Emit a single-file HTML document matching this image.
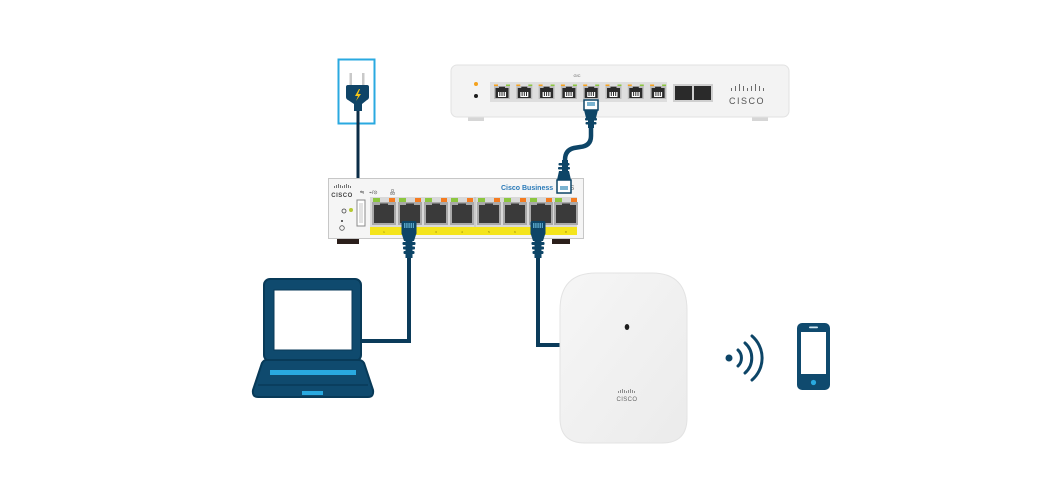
<!DOCTYPE html>
<html><head><meta charset="utf-8"><style>
html,body{margin:0;padding:0;background:#fff;}
svg{display:block;}
text{font-family:"Liberation Sans",sans-serif;}
</style></head><body>
<svg width="1050" height="500" viewBox="0 0 1050 500" xmlns="http://www.w3.org/2000/svg">
<defs>
  <linearGradient id="apg" x1="0" y1="0" x2="1" y2="1">
    <stop offset="0" stop-color="#f6f6f6"/><stop offset="1" stop-color="#ebebeb"/>
  </linearGradient>
  <g id="rport">
    <rect x="0" y="-1.5" width="4" height="1.5" fill="#f4a21e"/>
    <rect x="12" y="-1.5" width="4" height="1.5" fill="#8cc63f"/>
    <rect x="0" y="0" width="16" height="13" fill="#bdbdbd"/>
    <path d="M1.5 2 H5 V0.8 H11 V2 H14.5 V12 H1.5 Z" fill="#2b2b2b"/>
    <rect x="4" y="6" width="8" height="5" fill="#fff"/>
    <rect x="5.3" y="6" width="1" height="4" fill="#2b2b2b"/>
    <rect x="7.5" y="6" width="1" height="4" fill="#2b2b2b"/>
    <rect x="9.7" y="6" width="1" height="4" fill="#2b2b2b"/>
  </g>
  <g id="sport">
    <rect x="1" y="0" width="7" height="4" fill="#8cc63f"/>
    <rect x="17" y="0" width="6" height="4" fill="#f47b20"/>
    <rect x="0" y="4" width="24" height="23" fill="#a9a9a9"/>
    <path d="M2 7 H8 V5.5 H16 V7 H22 V25 H2 Z" fill="#3a3a3a"/>
  </g>
  <g id="plugup">
    <rect x="-7.5" y="0" width="15" height="14" rx="2" fill="#0d4567"/>
    <rect x="-5" y="2" width="10" height="5" fill="#5aa6c8"/>
    <rect x="-3.6" y="2" width="0.8" height="5" fill="#0d4567"/>
    <rect x="-1.4" y="2" width="0.8" height="5" fill="#0d4567"/>
    <rect x="0.8" y="2" width="0.8" height="5" fill="#0d4567"/>
    <rect x="3" y="2" width="0.8" height="5" fill="#0d4567"/>
    <path d="M-7.5 12 L-5 20 H5 L7.5 12 Z" fill="#0d4567"/>
    <rect x="-6.5" y="21" width="13" height="3" rx="1" fill="#0d4567"/>
    <rect x="-6" y="25.5" width="12" height="3" rx="1" fill="#0d4567"/>
    <rect x="-5.5" y="30" width="11" height="3" rx="1" fill="#0d4567"/>
    <rect x="-3.5" y="20" width="7" height="17" fill="#0d4567"/>
  </g>
</defs>

<!-- ===== Router ===== -->
<rect x="468" y="116" width="16" height="5" fill="#d6d6d6"/>
<rect x="752" y="116" width="16" height="5" fill="#d6d6d6"/>
<rect x="451" y="65" width="338" height="52" rx="6" fill="#f3f3f3" stroke="#e2e2e2" stroke-width="1"/>
<circle cx="476" cy="84" r="2" fill="#f4a21e"/>
<circle cx="476" cy="96" r="2" fill="#1e1e1e"/>
<text x="577" y="77" font-size="4" fill="#555" text-anchor="middle">G!C</text>
<rect x="490" y="82" width="177" height="20" fill="#dedede"/>
<use href="#rport" x="494" y="86"/>
<use href="#rport" x="516.3" y="86"/>
<use href="#rport" x="538.6" y="86"/>
<use href="#rport" x="560.9" y="86"/>
<use href="#rport" x="583.2" y="86"/>
<use href="#rport" x="605.5" y="86"/>
<use href="#rport" x="627.8" y="86"/>
<use href="#rport" x="650.1" y="86"/>
<rect x="673" y="84" width="40" height="18" fill="#cfcfcf"/>
<rect x="675" y="86" width="17" height="14" fill="#2a2a2a"/>
<rect x="694" y="86" width="17" height="14" fill="#2a2a2a"/>
<g fill="#6a6a6a">
  <rect x="731" y="88" width="1" height="3"/><rect x="735" y="86" width="1" height="5"/>
  <rect x="739" y="84" width="1" height="7"/><rect x="743" y="86" width="1" height="5"/>
  <rect x="747" y="88" width="1" height="3"/><rect x="751" y="86" width="1" height="5"/>
  <rect x="755" y="84" width="1" height="7"/><rect x="759" y="86" width="1" height="5"/>
  <rect x="763" y="88" width="1" height="3"/>
</g>
<text x="747" y="104" font-size="9" fill="#555" text-anchor="middle" letter-spacing="1.5">CISCO</text>

<!-- ===== Power outlet & plug ===== -->
<rect x="338.5" y="59.5" width="36" height="64" fill="#fff" stroke="#2aa9e0" stroke-width="2"/>
<line x1="358" y1="105" x2="358" y2="179" stroke="#0b2d47" stroke-width="3"/>
<rect x="349.5" y="73" width="2.5" height="14" fill="#c9c9c9"/>
<rect x="362" y="73" width="2.5" height="14" fill="#c9c9c9"/>
<path d="M346 87 Q346 85 348 85 H367 Q369 85 369 87 V97 Q369 99 367 100 L362 104 V111 H354 V104 L348 100 Q346 99 346 97 Z" fill="#0f4467"/>
<path d="M359 89 L355 96 H358 L356 101 L361 94 H358 L360 89 Z" fill="#f5c518"/>

<!-- ===== Switch ===== -->
<rect x="337" y="237" width="22" height="7" fill="#2b1f1b"/>
<rect x="552" y="237" width="18" height="7" fill="#2b1f1b"/>
<rect x="328.5" y="178.5" width="255" height="60" fill="#f5f5f5" stroke="#c7c7c7" stroke-width="1"/>
<g fill="#555">
  <rect x="334" y="186" width="0.8" height="2"/><rect x="336" y="185" width="0.8" height="3"/>
  <rect x="338" y="184" width="0.8" height="4"/><rect x="340" y="185" width="0.8" height="3"/>
  <rect x="342" y="186" width="0.8" height="2"/><rect x="344" y="185" width="0.8" height="3"/>
  <rect x="346" y="184" width="0.8" height="4"/><rect x="348" y="185" width="0.8" height="3"/>
  <rect x="350" y="186" width="0.8" height="2"/>
</g>
<text x="342" y="197" font-size="6" fill="#444" text-anchor="middle" font-weight="bold" letter-spacing="0.5">CISCO</text>
<text x="360" y="194" font-size="5" fill="#444">⇋</text>
<text x="369" y="194" font-size="5" fill="#444">⌁/⊙</text>
<text x="390" y="194" font-size="5" fill="#444">品</text>
<rect x="357" y="200" width="8" height="26" fill="#fff" stroke="#8a8a8a" stroke-width="1"/>
<rect x="359" y="203" width="4" height="20" fill="#e2e2e2"/>
<circle cx="344" cy="211" r="2" fill="none" stroke="#444" stroke-width="0.8"/>
<circle cx="351" cy="210" r="2" fill="#b5c930"/>
<circle cx="342" cy="221" r="1" fill="#333"/>
<circle cx="342" cy="228" r="2.3" fill="none" stroke="#555" stroke-width="0.8"/>
<text x="501" y="190" font-size="7" fill="#2a7ab8" font-weight="bold">Cisco Business</text>
<text x="556" y="190" font-size="7" fill="#777">250 S</text>
<rect x="370" y="197" width="207" height="30" fill="#d9d9d9"/>
<use href="#sport" x="372" y="198"/>
<use href="#sport" x="398" y="198"/>
<use href="#sport" x="424" y="198"/>
<use href="#sport" x="450" y="198"/>
<line x1="475" y1="197" x2="475" y2="227" stroke="#bdbdbd" stroke-width="1"/>
<use href="#sport" x="477" y="198"/>
<use href="#sport" x="503" y="198"/>
<use href="#sport" x="529" y="198"/>
<use href="#sport" x="554" y="198"/>
<rect x="370" y="227" width="207" height="8" fill="#f4e41c"/>
<g font-size="3" fill="#8a7a00" text-anchor="middle">
  <text x="384" y="233">1</text><text x="410" y="233">2</text><text x="436" y="233">3</text><text x="462" y="233">4</text>
  <text x="489" y="233">5</text><text x="515" y="233">6</text><text x="541" y="233">7</text><text x="566" y="233">8</text>
</g>

<!-- ===== Router-to-switch cable (drawn over switch) ===== -->
<path d="M591 125 V136 Q591 146 580 147 L574 148 Q565 150 565 160 V170" fill="none" stroke="#0d4567" stroke-width="4.5"/>
<g>
  <rect x="584" y="100" width="14" height="10" fill="#fff" stroke="#0d4567" stroke-width="1.5"/>
  <rect x="587" y="102" width="8" height="4" fill="#7ab3d0"/>
  <path d="M584 110 H598 L596 118 H586 Z" fill="#0d4567"/>
  <rect x="585" y="118" width="12" height="2.5" rx="1" fill="#0d4567"/>
  <rect x="585.5" y="122" width="11" height="2.5" rx="1" fill="#0d4567"/>
  <rect x="588" y="117" width="6" height="11" fill="#0d4567"/>
</g>
<g>
  <rect x="562" y="160" width="6" height="12" fill="#0d4567"/>
  <rect x="558.5" y="163" width="11" height="2.5" rx="1" fill="#0d4567"/>
  <rect x="558" y="167" width="12" height="2.5" rx="1" fill="#0d4567"/>
  <path d="M559 171 H569 L571 180 H557 Z" fill="#0d4567"/>
  <rect x="557" y="180" width="14" height="13" fill="#fff" stroke="#0d4567" stroke-width="1.5"/>
  <rect x="560" y="186" width="8" height="4" fill="#7ab3d0"/>
</g>

<!-- ===== Cables to laptop and AP ===== -->
<path d="M409 255 V341 H360" fill="none" stroke="#0b3b5a" stroke-width="4"/>
<path d="M538 255 V345 H561" fill="none" stroke="#0b3b5a" stroke-width="4"/>
<use href="#plugup" x="409" y="221"/>
<use href="#plugup" x="538" y="221"/>

<!-- ===== Laptop ===== -->
<rect x="264" y="279" width="97" height="82" rx="6" fill="#0f4a6e" stroke="#083a58" stroke-width="2"/>
<rect x="274" y="290" width="78" height="60" fill="#fff" stroke="#083a58" stroke-width="1"/>
<path d="M266 360 H359 Q362 360 364 363 L373 390 Q374 397 368 397 H258 Q252 397 253 390 L262 363 Q264 360 266 360 Z" fill="#0f4a6e" stroke="#083a58" stroke-width="2"/>
<rect x="270" y="370" width="86" height="5" fill="#29a9e0"/>
<line x1="258" y1="385" x2="368" y2="385" stroke="#083a58" stroke-width="1.5"/>
<rect x="302" y="391" width="21" height="4" fill="#29a9e0"/>

<!-- ===== Access Point ===== -->
<path d="M596 273 H652 Q687 273 687 310 V418 Q687 443 662 443 H585 Q560 443 560 418 V310 Q560 273 596 273 Z" fill="url(#apg)" stroke="#e3e3e3" stroke-width="1"/>
<ellipse cx="627" cy="327" rx="2.3" ry="3" fill="#1e1e1e"/>
<g fill="#777">
  <rect x="618" y="391" width="0.8" height="2"/><rect x="620" y="390" width="0.8" height="3"/>
  <rect x="622" y="389" width="0.8" height="4"/><rect x="624" y="390" width="0.8" height="3"/>
  <rect x="626" y="391" width="0.8" height="2"/><rect x="628" y="390" width="0.8" height="3"/>
  <rect x="630" y="389" width="0.8" height="4"/><rect x="632" y="390" width="0.8" height="3"/>
  <rect x="634" y="391" width="0.8" height="2"/>
</g>
<text x="627" y="401" font-size="6" fill="#666" text-anchor="middle" letter-spacing="0.4">CISCO</text>

<!-- ===== WiFi ===== -->
<circle cx="729" cy="358" r="3.5" fill="#0d4567"/>
<g fill="none" stroke="#0d4567" stroke-width="3" stroke-linecap="round">
  <path d="M738 350 A11 11 0 0 1 738 366"/>
  <path d="M745 343 A20 20 0 0 1 745 373"/>
  <path d="M752 336 A29 29 0 0 1 752 380"/>
</g>

<!-- ===== Phone ===== -->
<rect x="797" y="323" width="33" height="67" rx="5" fill="#0f4a6e"/>
<rect x="801" y="332" width="25" height="42" fill="#fff"/>
<rect x="809" y="326.5" width="9" height="1.8" rx="0.9" fill="#cfe6f2"/>
<circle cx="813.5" cy="382.5" r="2.6" fill="#29a9e0"/>
</svg>
</body></html>
